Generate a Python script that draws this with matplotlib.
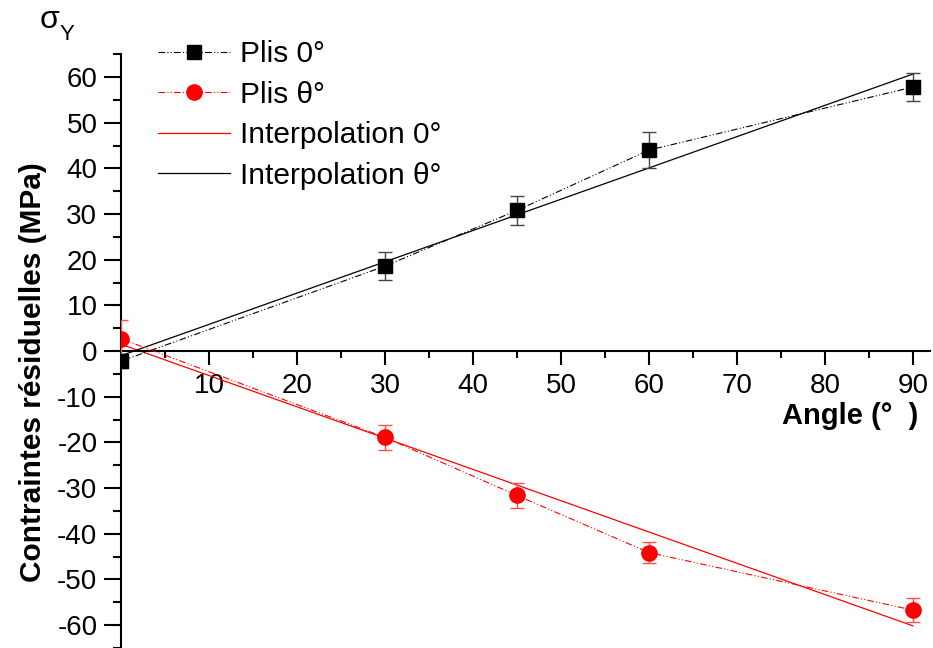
import matplotlib
matplotlib.use("Agg")
import matplotlib.pyplot as plt
from matplotlib.lines import Line2D
import numpy as np

plt.rcParams['font.family'] = ['Liberation Sans', 'DejaVu Sans']
plt.rcParams['axes.unicode_minus'] = False

angles = [0, 30, 45, 60, 90]
plis0 = [-2.2, 18.6, 30.8, 44.0, 57.8]
plis0_err = [1.5, 3.1, 3.2, 4.0, 3.0]
plist = [2.7, -18.9, -31.6, -44.1, -56.7]
plist_err = [4.0, 2.8, 2.7, 2.2, 2.7]

interp_x = [0, 90]
interp0 = [1.5, -60.15]      # red line
interpt = [-1.0, 60.65]      # black line

fig = plt.figure(figsize=(9.33, 6.48), dpi=100)
ax = fig.add_axes([121/933, 0.0, 809.5/933, 593.8/648])

dd = (0, (6, 2, 1, 2, 1, 2))
ax.errorbar(angles, plis0, yerr=plis0_err, color='black', ls=dd, lw=0.8,
            marker='s', ms=9.5, ecolor='#444444', elinewidth=1.0, capsize=5,
            capthick=1.0, zorder=3)
ax.errorbar(angles, plist, yerr=plist_err, color='red', ls=dd, lw=0.8,
            marker='o', ms=11, ecolor='#ff5050', elinewidth=1.0, capsize=5,
            capthick=1.0, zorder=3)
ax.plot(interp_x, interp0, color='red', lw=0.9, zorder=2)
ax.plot(interp_x, interpt, color='black', lw=0.9, zorder=2)

ax.set_xlim(0, 92)
ax.set_ylim(-65, 65)
ax.spines['top'].set_visible(False)
ax.spines['right'].set_visible(False)
ax.spines['bottom'].set_position(('data', 0))
ax.spines['left'].set_position(('data', 0))
ax.spines['bottom'].set_linewidth(1.5)
ax.spines['left'].set_linewidth(1.5)

ax.set_xticks(np.arange(10, 91, 10))
ax.set_xticks(np.arange(5, 91, 10), minor=True)
ax.set_yticks(np.arange(-60, 61, 10))
ax.set_yticks(np.arange(-65, 66, 10), minor=True)
ax.tick_params(axis='x', which='major', direction='out', length=10, width=1.5, pad=6, labelsize=20)
ax.tick_params(axis='x', which='minor', direction='out', length=5, width=1.5)
ax.tick_params(axis='y', which='major', direction='out', length=12, width=1.5, pad=5, labelsize=20)
ax.tick_params(axis='y', which='minor', direction='out', length=6, width=1.5)

fig.text(33/933, 1 - 372/648, 'Contraintes résiduelles (MPa)', rotation=90,
         fontsize=21.5, fontweight='bold', ha='center', va='center')
fig.text(850/933, 1 - 416/648, 'Angle (°  )', fontsize=21, fontweight='bold',
         ha='center', va='center')
fig.text(40/933, 1 - 20/648, 'σ', fontsize=23, ha='left', va='center')
fig.text(60/933, 1 - 34/648, 'Y', fontsize=16, ha='left', va='center')

handles = [
    Line2D([], [], color='black', ls=dd, lw=0.8, marker='s', ms=9.5),
    Line2D([], [], color='red', ls=dd, lw=0.8, marker='o', ms=11),
    Line2D([], [], color='red', lw=0.9),
    Line2D([], [], color='black', lw=0.9),
]
labels = ['Plis 0°', 'Plis θ°', 'Interpolation 0°', 'Interpolation θ°']
leg = ax.legend(handles, labels, loc='upper left', bbox_to_anchor=(158/933, 1 - 40/648),
                bbox_transform=fig.transFigure, frameon=False, fontsize=21.5,
                handlelength=2.4, handletextpad=0.33, labelspacing=0.42,
                borderpad=0, borderaxespad=0)

fig.savefig('out.png', dpi=100)
